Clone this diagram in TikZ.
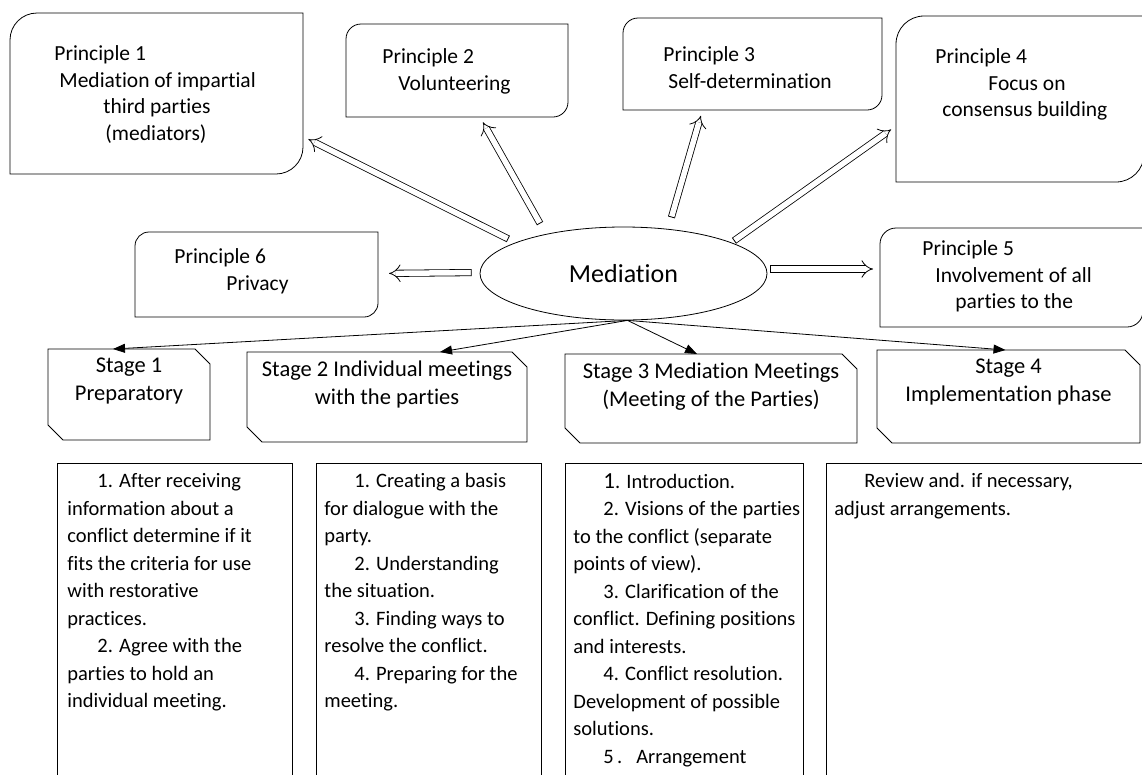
\documentclass[tikz,border=0pt]{standalone}
\usepackage{fontspec}
\setmainfont{Carlito}[Ligatures=CommonOff]
\usetikzlibrary{arrows.meta,shapes.geometric}

\tikzset{
  box/.style={inner sep=0pt, outer sep=0pt, anchor=north west},
  ptext/.style={inner sep=0pt, anchor=north west, align=left, font=\fontsize{21.5}{26.7}\selectfont},
  stext/.style={inner sep=0pt, anchor=north, align=center, font=\fontsize{22.5}{28}\selectfont},
  ltext/.style={inner sep=0pt, anchor=north west, align=left, font=\fontsize{20.5}{27.5}\selectfont},
  listbox/.style={draw, inner sep=0pt, outer sep=0pt, anchor=north west, minimum height=340pt},
  dbl/.style={double, double distance=5.5pt, {Bar[width=7.1pt]}-{Implies}, shorten >=6pt, shorten <=3pt},
  arr/.style={-{Triangle[length=12pt,width=9pt]}},
}

\begin{document}
\begin{tikzpicture}[x=1pt, y=-1pt, line width=0.8pt]
\useasboundingbox (0,0) rectangle (1142,774);
\clip (0,0) rectangle (1142,774);

% centre
\node[draw, ellipse, minimum width=287pt, minimum height=93pt, font=\fontsize{26}{30}\selectfont] (med) at (623.5,273.5) {Mediation};

% principles
\node[box, minimum width=293pt, minimum height=161pt] (p1) at (10,13) {};
\node[box, minimum width=222pt, minimum height=93pt] (p2) at (346,24) {};
\node[box, minimum width=259pt, minimum height=92pt] (p3) at (623,18) {};
\node[box, minimum width=248pt, minimum height=166pt] (p4) at (896,16) {};
\node[box, minimum width=263pt, minimum height=99pt] (p5) at (880,228) {};
\node[box, minimum width=243pt, minimum height=85pt] (p6) at (135,232) {};
\foreach \b/\r in {p1/27pt,p2/15pt,p3/15pt,p4/28pt,p5/16pt,p6/14pt}
  \draw ([yshift=-\r]\b.north west) arc[start angle=180, end angle=90, radius=\r]
    -- (\b.north east) -- ([yshift=\r]\b.south east)
    arc[start angle=0, end angle=-90, radius=\r] -- (\b.south west) -- cycle;

\node[ptext] (p1t) at ([shift={(44pt,-32pt)}]p1.north west)
  {Principle 1\\\hspace*{5pt}Mediation of impartial\\\hspace*{49pt}third parties\\\hspace*{51pt}(mediators)};
\node[ptext] (p2t) at ([shift={(36pt,-24pt)}]p2.north west)
  {Principle 2\\\hspace*{16pt}Volunteering};
\node[ptext] (p3t) at ([shift={(40pt,-28pt)}]p3.north west)
  {Principle 3\\\hspace*{5pt}Self-determination};
\node[ptext] (p4t) at ([shift={(39pt,-32pt)}]p4.north west)
  {Principle 4\\\hspace*{53pt}Focus on\\\hspace*{7pt}consensus building};
\node[ptext] (p5t) at ([shift={(42pt,-12pt)}]p5.north west)
  {Principle 5\\\hspace*{13pt}Involvement of all\\\hspace*{33pt}parties to the};
\node[ptext] (p6t) at ([shift={(39pt,-16pt)}]p6.north west)
  {Principle 6\\\hspace*{52pt}Privacy};

% arrows to the principles
\draw[dbl, shorten <=8pt] (med.164) -- ([yshift=-43pt]p1.east);
\draw[dbl, shorten <=12pt] (med.153) -- ([xshift=23pt]p2.south);
\draw[dbl, shorten <=12pt] (med.45) -- ([xshift=-50pt]p3.south);
\draw[dbl] (med.16) -- ([yshift=-27pt]p4.west);
\draw[dbl, shorten <=8pt, shorten >=11pt] ([yshift=1pt]med.west) -- ([yshift=1pt]p6.east);
\draw[dbl, shorten >=7pt] ([yshift=4.5pt]med.east) -- ([yshift=8.5pt]p5.west);

% stages
\node[box, minimum width=162pt, minimum height=91pt] (s1) at (48,349) {};
\node[box, minimum width=280pt, minimum height=90pt] (s2) at (247,352) {};
\node[box, minimum width=292pt, minimum height=89pt] (s3) at (565,354) {};
\node[box, minimum width=263pt, minimum height=93pt] (s4) at (877,350) {};
\foreach \b in {s1,s2,s3,s4}
  \draw (\b.north west) -- ([xshift=-15pt]\b.north east) -- ([yshift=-15pt]\b.north east)
    -- (\b.south east) -- ([xshift=15pt]\b.south west) -- ([yshift=15pt]\b.south west) -- cycle;

\node[stext] (s1t) at ([yshift=-8pt]s1.north) {Stage 1\\Preparatory};
\node[stext] (s2t) at ([yshift=-8pt]s2.north) {Stage 2 Individual meetings\\with the parties};
\node[stext] (s3t) at ([yshift=-8pt]s3.north) {Stage 3 Mediation Meetings\\(Meeting of the Parties)};
\node[stext] (s4t) at ([yshift=-8pt]s4.north) {Stage 4\\Implementation phase};

\draw[arr] ([xshift=4pt]med.south) -- ([xshift=-16pt]s1.north);
\draw[arr] ([xshift=4pt]med.south) -- ([xshift=53pt]s2.north);
\draw[arr] ([xshift=4pt]med.south) -- ([xshift=-14pt]s3.north);
\draw[arr] ([xshift=4pt]med.south) -- ([xshift=-3pt]s4.north);

% lists
\node[listbox, minimum width=235pt] (b1) at (57,463) {};
\node[listbox, minimum width=225pt] (b2) at (316,463) {};
\node[listbox, minimum width=238pt] (b3) at (565,463) {};
\node[listbox, minimum width=330pt] (b4) at (826,463) {};

\node[ltext] (b1t) at ([shift={(10pt,-10pt)}]b1.north west)
  {\hspace*{30pt}1. After receiving\\information about a\\conflict determine if it\\fits the criteria for use\\with restorative\\practices.\\\hspace*{30pt}2. Agree with the\\parties to hold an\\individual meeting.};
\node[ltext] (b2t) at ([shift={(8pt,-10pt)}]b2.north west)
  {\hspace*{30pt}1. Creating a basis\\for dialogue with the\\party.\\\hspace*{30pt}2. Understanding\\the situation.\\\hspace*{30pt}3. Finding ways to\\resolve the conflict.\\\hspace*{30pt}4. Preparing for the\\meeting.};
\node[ltext] (b3t) at ([shift={(8pt,-10pt)}]b3.north west)
  {\hspace*{30pt}{\fontsize{23}{27.5}\selectfont 1}. Introduction.\\\hspace*{30pt}2. Visions of the parties\\to the conflict (separate\\points of view).\\\hspace*{30pt}3. Clarification of the\\conflict. Defining positions\\and interests.\\\hspace*{30pt}4. Conflict resolution.\\Development of possible\\solutions.\\\hspace*{30pt}5\,.\hspace{14pt}Arrangement};
\node[ltext] (b4t) at ([shift={(8pt,-10pt)}]b4.north west)
  {\hspace*{30pt}Review and. if necessary,\\adjust arrangements.};
\end{tikzpicture}
\end{document}
